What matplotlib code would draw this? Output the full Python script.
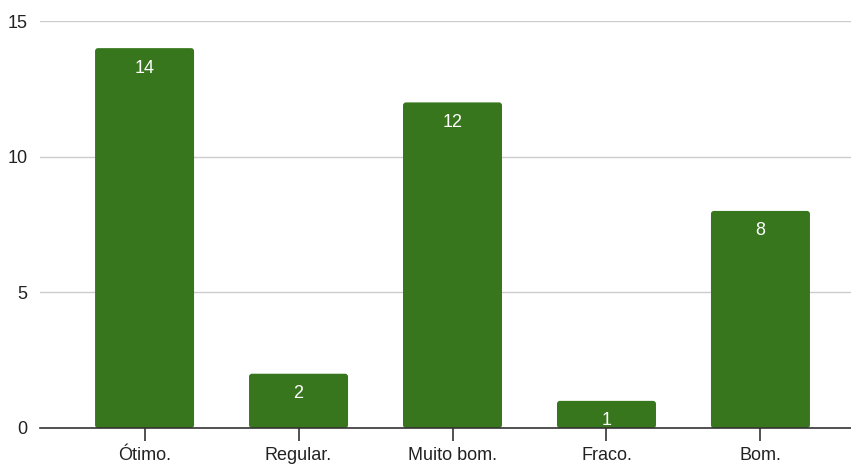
import matplotlib
matplotlib.use("Agg")
import matplotlib.pyplot as plt
from matplotlib.patches import FancyBboxPatch
import numpy as np

# Survey answers
categories = ["Ótimo.", "Regular.", "Muito bom.", "Fraco.", "Bom."]
counts = [14, 2, 12, 1, 8]
yticks = [0, 5, 10, 15]

plt.rcParams["font.family"] = ["Liberation Sans", "DejaVu Sans"]

fig = plt.figure(figsize=(8.51, 4.66), dpi=100)
ax = fig.add_axes([40 / 851, 38 / 466, 811 / 851, 407 / 466])

x = np.arange(len(categories))
bars = ax.bar(x, counts, width=0.643, color="#38761d", zorder=3)

ax.set_xlim(-0.679, 4.588)
ax.set_ylim(0, 15)

# swap the plain bars for ones with slightly rounded corners
px_x = 811 / (4.588 + 0.679)
px_y = 407 / 15
for b in bars:
    b.set_visible(False)
    p = FancyBboxPatch((b.get_x(), b.get_y()), b.get_width(), b.get_height(),
                       boxstyle="round,pad=0,rounding_size=%f" % (3 / px_x),
                       mutation_aspect=px_x / px_y,
                       facecolor="#38761d", edgecolor="none", zorder=3)
    ax.add_patch(p)

for b, v in zip(bars, counts):
    ax.annotate(str(v), (b.get_x() + b.get_width() / 2, v), xytext=(0, -20),
                textcoords="offset pixels",
                ha="center", va="center", color="white", fontsize=13, zorder=4)

ax.set_yticks(yticks)
ax.set_xticks(x)
ax.set_xticklabels(categories)

ax.grid(axis="y", color="#cccccc", linewidth=1, zorder=0)
for s in ["top", "right", "left"]:
    ax.spines[s].set_visible(False)
ax.spines["bottom"].set_color("#333333")
ax.spines["bottom"].set_linewidth(1.2)
ax.spines["bottom"].set_zorder(5)

ax.tick_params(axis="y", length=0, pad=9, labelsize=13, labelcolor="#222222")
ax.tick_params(axis="x", direction="inout", length=18, width=1.2, color="#333333",
               pad=5, labelsize=13, labelcolor="#222222")
for t in ax.xaxis.get_major_ticks():
    t.tick1line.set_zorder(6)
ax.set_axisbelow(False)

fig.savefig("out.png", dpi=100, facecolor="white")
